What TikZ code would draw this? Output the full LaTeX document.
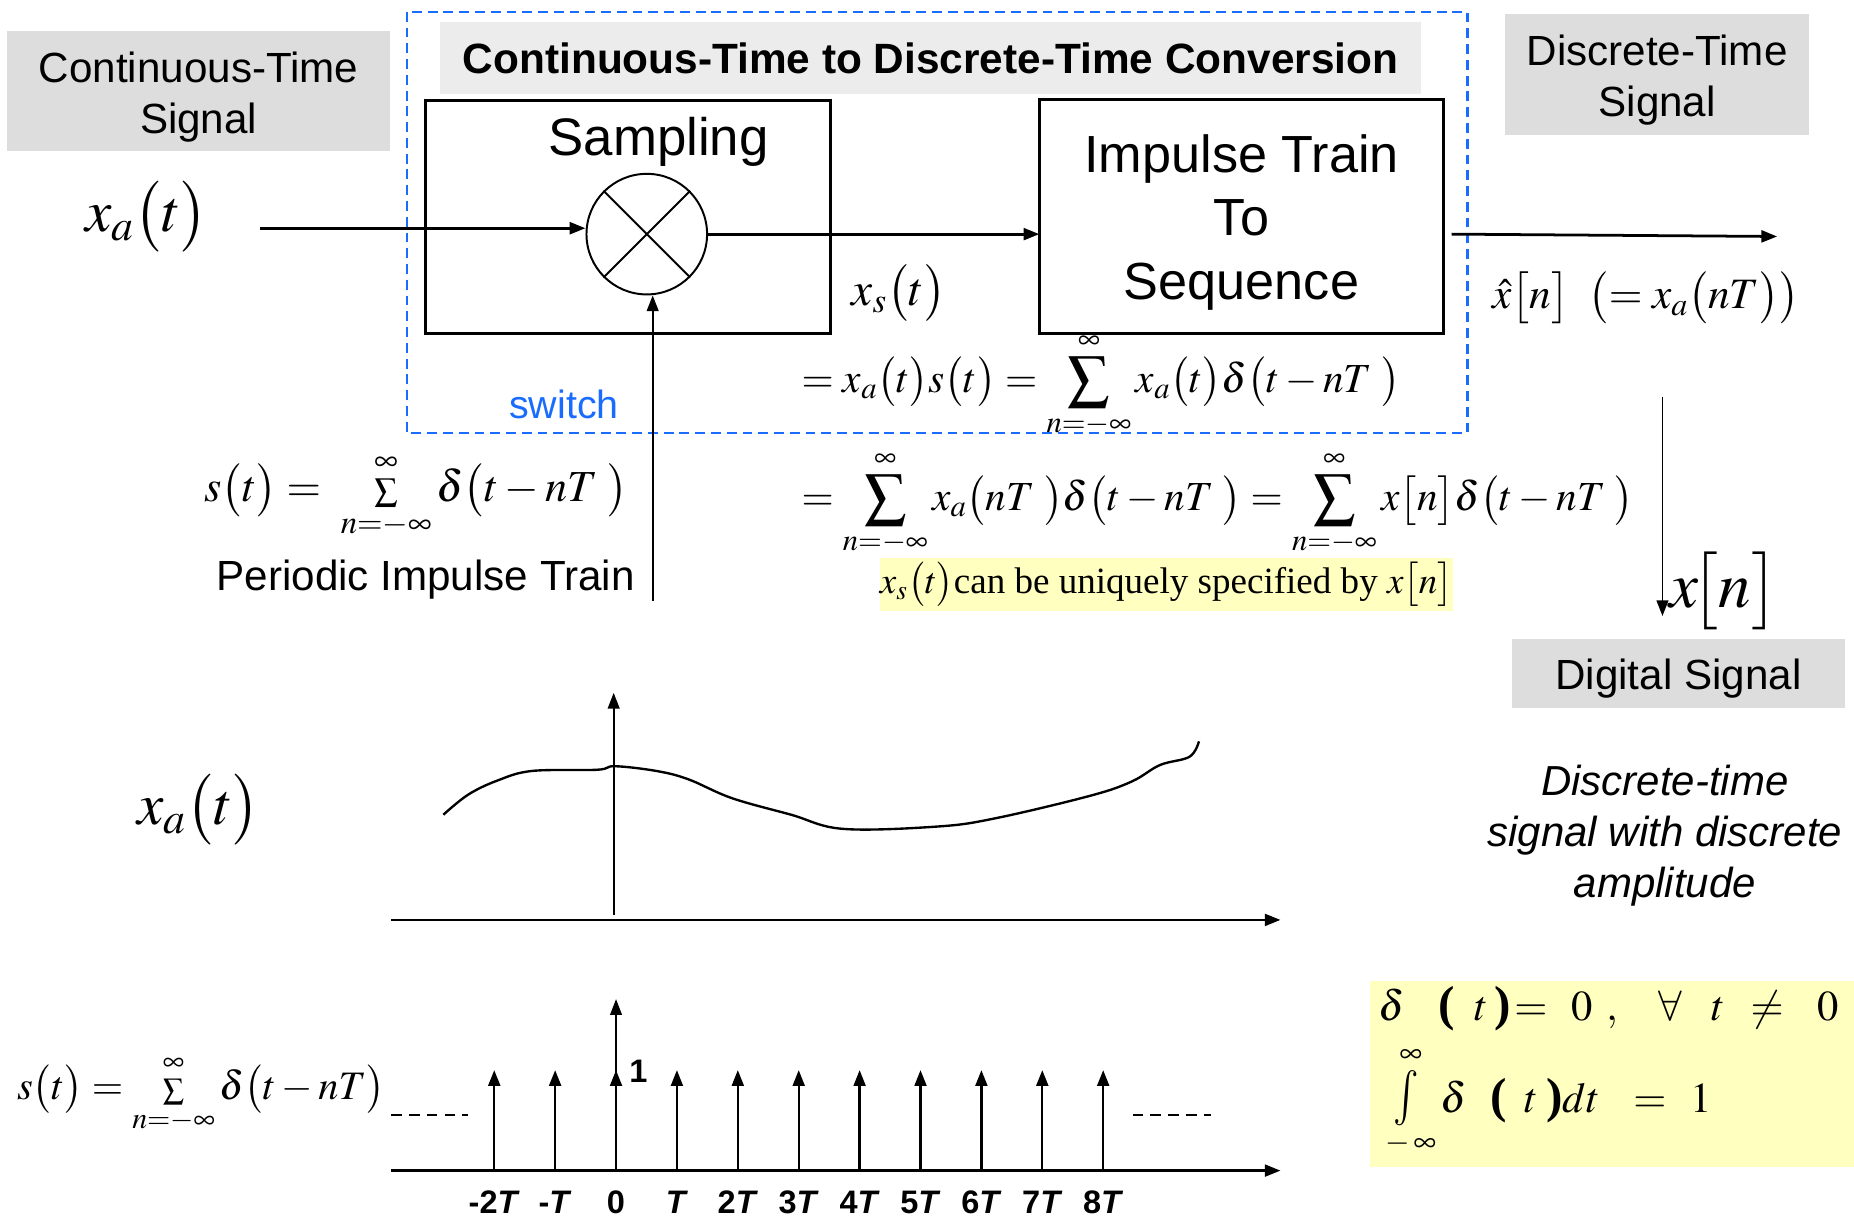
\documentclass[tikz,border=0pt]{standalone}
\usepackage{amsmath}
\usepackage{mathptmx}
\usepackage[no-math]{fontspec}
\setmainfont{Liberation Sans}
\newfontfamily\timesrm{Liberation Serif}
\usetikzlibrary{arrows.meta}

\definecolor{boxgray}{RGB}{221,221,221}
\definecolor{titlegray}{RGB}{236,236,236}
\definecolor{switchblue}{RGB}{26,108,255}
\definecolor{noteyellow}{RGB}{255,255,192}
\newcommand{\fsz}[2]{\fontsize{#1}{#2}\selectfont}
\newcommand{\bpar}[1]{\text{\fontsize{25}{30}\selectfont\timesrm\bfseries #1}}
\newcommand{\smsum}{\mathop{\scriptstyle\sum}\limits_{\scriptstyle n=-\infty}^{\scriptstyle\infty}}

\begin{document}
\begin{tikzpicture}[x=0.6pt,y=-0.6pt,>={Triangle[length=8pt,width=6pt]},
    graybox/.style={fill=boxgray,inner sep=0pt,outer sep=0pt},
    boxtext/.style={align=center,font=\fsz{21.4}{25.8}},
    blockbox/.style={draw,line width=1.5pt,inner sep=0pt,outer sep=0pt},
    note/.style={fill=noteyellow,inner sep=0pt,outer sep=0pt},
    sig/.style={line width=1.4pt},
    thinsig/.style={line width=0.9pt},
    imp/.style={line width=1.2pt,->},
    ticklab/.style={font=\fsz{16.5}{20}\bfseries}]
   \useasboundingbox (0,0) rectangle (1568,1031);
   %signal names
   \node[graybox,minimum width=194.4pt,minimum height=61.2pt] (ctsig) at (168,77) {};
   \node[boxtext] (ctsigtxt) at (168,82) {Continuous-Time\\Signal};
   \node[graybox,minimum width=154.2pt,minimum height=61.2pt] (dtsig) at (1401.5,63) {};
   \node[boxtext] (dtsigtxt) at (1401.5,68) {Discrete-Time\\Signal};
   \node[graybox,minimum width=168.6pt,minimum height=35.4pt] (digsig) at (1419.5,569.5) {};
   \node[boxtext] (digsigtxt) at (1419.5,574) {Digital Signal};
   %conversion frame
   \draw[switchblue,line width=1.2pt,dash pattern=on 5pt off 3pt] (344,10) rectangle (1241,366);
   \node[fill=titlegray,inner sep=0pt,minimum width=498pt,minimum height=36.6pt,font=\fsz{21.5}{26}\bfseries] (title) at (787,49) {Continuous-Time to Discrete-Time Conversion};
   %blocks
   \node[blockbox,minimum width=205.2pt,minimum height=118.2pt] (sampbox) at (531,183.5) {};
   \node[font=\fsz{26.8}{32}] (samptxt) at (557,120) {Sampling};
   \node[draw,circle,line width=1pt,minimum size=61.2pt,inner sep=0pt] (mult) at (547,198) {};
   \draw[line width=1pt] (mult.45) -- (mult.225) (mult.135) -- (mult.-45);
   \node[blockbox,minimum width=205.2pt,minimum height=118.8pt] (itbox) at (1050,183) {};
   \node[align=center,font=\fsz{26.5}{32.1}] (ittxt) at (1050,188) {Impulse Train\\To\\Sequence};
   \node[font=\fsz{20}{24},text=switchblue] (swtxt) at (477,342) {switch};
   %connectors
   \coordinate (xin) at (220,193);
   \coordinate (swin) at (552,508);
   \coordinate (xend) at (1503,200);
   \coordinate (dtop) at (1406,336);
   \coordinate (dbot) at (1406,521);
   \draw[sig,->] (xin) -- (xin -| mult.west);
   \draw[sig,->] (mult.east) -- (mult.east -| itbox.west);
   \draw[thinsig,->] (swin) -- (swin |- mult.south);
   \draw[sig,->] ([xshift=4pt]itbox.east |- mult.east) -- (xend);
   \draw[thinsig,->] (dtop) -- (dbot);
   %formulas
   \node[font=\fsz{30}{36}] (xalab) at (124,183) {$x_a\bigl(t\bigr)$};
   \node[font=\fsz{24}{28.8}] (xslab) at (760,248) {$x_s\bigl(t\bigr)$};
   \node[anchor=west,font=\fsz{21}{25}] (eqa) at (672,326) {$\displaystyle = x_a\bigl(t\bigr)s\bigl(t\bigr) = \sum_{n=-\infty}^{\infty} x_a\bigl(t\bigr)\delta\bigl(t-nT\;\bigr)$};
   \node[anchor=west,font=\fsz{21}{25}] (eqb) at (672,426) {$\displaystyle = \sum_{n=-\infty}^{\infty} x_a\bigl(nT\;\bigr)\delta\bigl(t-nT\;\bigr) = \sum_{n=-\infty}^{\infty} x\bigl[n\bigr]\delta\bigl(t-nT\;\bigr)$};
   \node[note,font=\fsz{18.8}{24},minimum width=291pt,minimum height=27pt] (uniq) at (986.5,494.5) {$x_s\bigl(t\bigr)${\timesrm can be uniquely specified by }$x\bigl[n\bigr]$};
   \node[font=\fsz{22.5}{36}] (sdef) at (352,420) {$s\bigl(t\bigr)=\;\smsum\delta\bigl(t-nT\;\bigr)$};
   \node[font=\fsz{21.4}{26}] (ptrain) at (360,490) {Periodic Impulse Train};
   \node[font=\fsz{22}{31}] (xhat) at (1392,252) {$\hat{x}\bigl[n\bigr]\;\;\bigl(=x_a\bigl(nT\bigr)\bigr)$};
   \node[font=\fsz{33}{40}] (xnbig) at (1458,500) {$x\!\bigl[n\bigr]$};
   \node[font=\fsz{21.3}{25.8}\itshape,align=center] (dtamp) at (1408,707) {Discrete-time\\signal with discrete\\amplitude};
   %analog signal
   \node[font=\fsz{30}{36}] (xamid) at (168,685) {$x_a\bigl(t\bigr)$};
   \draw[sig,->] (331,778) -- (1083,778);
   \draw[thinsig,->] (519,774) -- (519,586);
   \draw[line width=1.2pt] plot[smooth,tension=0.6] coordinates {(375,689) (396,672) (421,660) (450,652) (505,651) (520,648) (555,652) (582,659) (619,675) (669,689) (713,701) (793,699) (842,692) (922,673) (957,661) (981,647) (1006,640) (1014,627)};
   %impulse train
   \node[font=\fsz{20.5}{40}] (sdefb) at (170,926) {$s\bigl(t\bigr)=\smsum\delta\bigl(t-nT\bigr)$};
   \draw[line width=1pt,dash pattern=on 5.4pt off 3.6pt] (331,943) -- (396,943);
   \draw[line width=1pt,dash pattern=on 5.4pt off 3.6pt] (958,943) -- (1024,943);
   \draw[sig,->] (331,990) -- (1083,990);
   \draw[line width=0.7pt,->] (521,990) -- (521,845);
   \foreach \i in {0,...,10}
      \draw[imp] (418+51.5*\i,990) -- (418+51.5*\i,905);
   \foreach \i/\lab in {0/-2\textit{T},1/-\textit{T},2/0,3/\textit{T},4/2\textit{T},5/3\textit{T},6/4\textit{T},7/5\textit{T},8/6\textit{T},9/7\textit{T},10/8\textit{T}}
      \node[ticklab] (tk\i) at (418+51.5*\i,1017) {\lab};
   \node[ticklab] (unit) at (540,906) {1};
   %delta properties
   \node[note,minimum width=245.4pt,minimum height=94.2pt] (deltabox) at (1363.5,908.5) {};
   \node[anchor=west,font=\fsz{21.6}{26}] (dzero) at (1160,853) {$\delta\hspace{17pt}\bpar{(}\hspace{10pt}t\hspace{3pt}\bpar{)}\hspace{2pt}{=}\hspace{12pt}0\hspace{7pt},\hspace{18pt}\forall\hspace{15pt}t\hspace{13pt}{\neq}\hspace{17pt}0$};
   \node[anchor=west,font=\fsz{21.6}{26}] (dint) at (1166,932) {$\mathop{\scalebox{1}[1.3]{$\int$}}\limits_{-\,\infty}^{\infty}\hspace{0pt}\delta\hspace{12pt}\bpar{(}\hspace{9pt}t\hspace{4pt}\bpar{)}dt\hspace{17pt}{=}\hspace{12pt}1$};
\end{tikzpicture}
\end{document}
